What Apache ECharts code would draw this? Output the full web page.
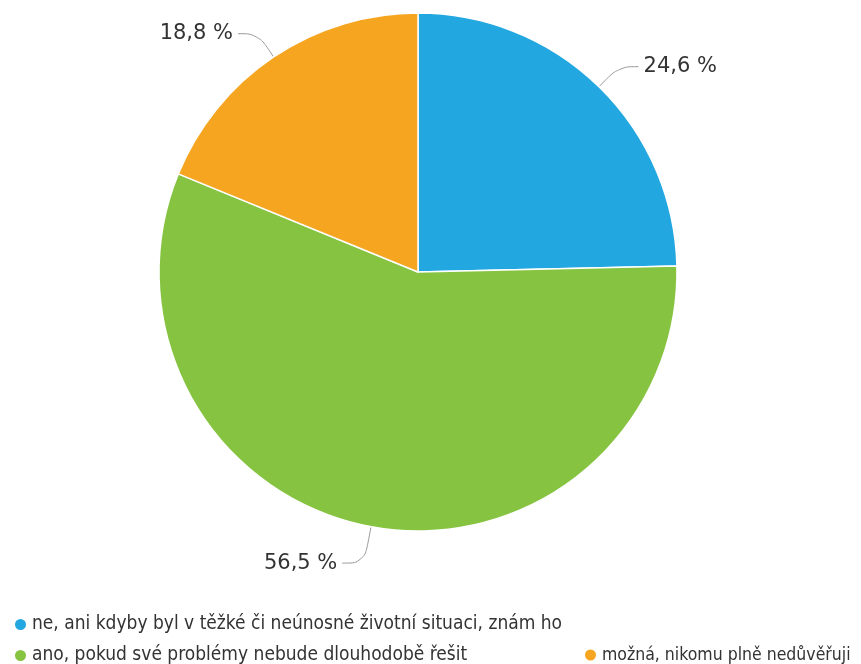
<!DOCTYPE html>
<html>
<head>
<meta charset="utf-8">
<script src="https://cdn.jsdelivr.net/npm/echarts@6/dist/echarts.min.js"></script>
<style>
  html, body { margin: 0; padding: 0; background: #fff; }
  #chart { width: 861px; height: 664px; }
</style>
</head>
<body>
<div id="chart"></div>
<script>
// odpovědi
const names = [
  'ne, ani kdyby byl v těžké či neúnosné životní situaci, znám ho',
  'ano, pokud své problémy nebude dlouhodobě řešit',
  'možná, nikomu plně nedůvěřuji'
]
const values = [24.6, 56.5, 18.8]
const colors = ['#22a7e0', '#86c341', '#f6a520']

const legendFont = (size) => ({
  fontFamily: 'Liberation Sans Narrow, DejaVu Sans Condensed, sans-serif',
  fontSize: size,
  color: '#333'
})
// kazda polozka legendy zvlast, at sedi rozlozeni
const legendItem = (left, top, name, size) => ({
  left: left,
  top: top,
  icon: 'circle',
  itemWidth: 13,
  itemHeight: 13,
  itemGap: 10,
  textStyle: legendFont(size),
  data: [name]
})

const myChart = echarts.init(document.getElementById('chart'))
myChart.setOption({
  animation: false,
  color: colors,
  legend: [
    legendItem(8, 610, names[0], 19),
    legendItem(8, 641, names[1], 19),
    legendItem(578, 641, names[2], 17.5)
  ],
  series: [{
    type: 'pie',
    center: [418, 272],
    radius: 259,
    startAngle: 90,
    clockwise: true,
    itemStyle: {
      borderColor: '#fff',
      borderWidth: 1.5
    },
    label: {
      show: true,
      fontFamily: 'DejaVu Sans, sans-serif',
      fontSize: 21,
      color: '#333',
      formatter: (p) => p.value.toFixed(1).replace('.', ',') + ' %'
    },
    labelLine: {
      show: true,
      length: 28,
      length2: 20,
      smooth: 0.4,
      lineStyle: { color: '#999', width: 1 }
    },
    data: names.map((n, i) => ({
      name: n,
      value: values[i],
      labelLine: i === 1 ? { length: 37, length2: 22 } : undefined
    }))
  }]
})
</script>
</body>
</html>
